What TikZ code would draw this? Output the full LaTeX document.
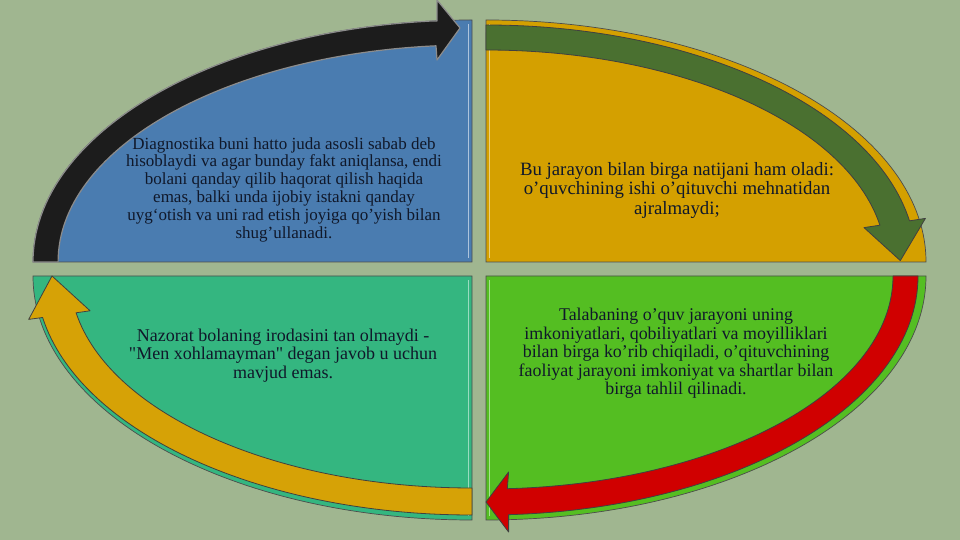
\documentclass[tikz,border=0pt]{standalone}
\usepackage{fontspec}
\setmainfont{Liberation Serif}[Ligatures=TeXOff]
\definecolor{bg}{HTML}{A0B690}
\definecolor{qblue}{HTML}{4A7CB0}
\definecolor{qgold}{HTML}{D4A000}
\definecolor{qgreen}{HTML}{54BE22}
\definecolor{qteal}{HTML}{34B680}
\definecolor{arblack}{HTML}{1C1C1C}
\definecolor{argreen}{HTML}{4A7030}
\definecolor{arred}{HTML}{D00000}
\definecolor{argold}{HTML}{D6A206}
\definecolor{txt}{HTML}{10182A}
\tikzset{
  quad/.style={draw=black!70, line width=0.7pt},
  band/.style={line width=0.8pt, line join=round},
  lbl/.style={align=center, text=txt, inner sep=0pt},
}
\begin{document}
\begin{tikzpicture}[x=1pt,y=1pt]
\fill[bg] (0,0) rectangle (960,540);
\useasboundingbox (0,0) rectangle (960,540);

% quadrants
\path[quad, fill=qblue] (472,278) -- (33,278) arc[start angle=180,end angle=90,x radius=439,y radius=242] -- cycle;
\path[quad, fill=qgold] (486,278) -- (486,520) arc[start angle=90,end angle=0,x radius=440,y radius=242] -- cycle;
\path[quad, fill=qgreen] (486,264) -- (926,264) arc[start angle=0,end angle=-90,x radius=440,y radius=244] -- cycle;
\path[quad, fill=qteal] (472,264) -- (472,20) arc[start angle=270,end angle=180,x radius=439,y radius=244] -- cycle;

% bevel highlights
\draw[qblue!45!white, line width=1.5pt] (468.5,282) -- (468.5,516);
\draw[qgold!50!white, line width=1.5pt] (489.5,282) -- (489.5,516);
\draw[qgreen!50!white, line width=1.5pt] (489.5,24) -- (489.5,260);
\draw[qteal!50!white, line width=1.5pt] (468.5,24) -- (468.5,260);

% black arrow (top left)
\path[band, fill=arblack, draw=black!45, line width=1.2pt] (33,278) arc[start angle=180,end angle=95,x radius=439,y radius=242]
  -- (437,519) -- (437,540) -- (460,512) -- (437,480) -- (436,494.2)
  arc[start angle=95,end angle=180,x radius=414,y radius=217] -- cycle;

% green arrow (top right)
\path[band, fill=argreen, draw=black!75] (486,515) arc[start angle=90,end angle=10,x radius=430,y radius=237]
  -- (925.4,321.6) -- (900.3,279.4) -- (864,312.4) -- (879.9,314.8)
  arc[start angle=10,end angle=90,x radius=400,y radius=212] -- cycle;

% red arrow (bottom right)
\path[band, fill=arred, draw=black!75] (918,264) arc[start angle=0,end angle=-87,x radius=432,y radius=239]
  -- (508.6,8) -- (486,38) -- (508.6,68) -- (507.3,51.3)
  arc[start angle=-87,end angle=0,x radius=407,y radius=213] -- cycle;

% gold arrow (bottom left)
\path[band, fill=argold, draw=black!75] (472,25) arc[start angle=270,end angle=190,x radius=436,y radius=239]
  -- (28.7,220.6) -- (52,264) -- (90.1,229.2) -- (76.1,227.2)
  arc[start angle=190,end angle=270,x radius=402,y radius=212] -- cycle;

% texts
\node[lbl, font=\fontsize{17}{17.8}\selectfont] (tl) at (284,350.5) {Diagnostika buni hatto juda asosli sabab deb\\hisoblaydi va agar bunday fakt aniqlansa, endi\\bolani qanday qilib haqorat qilish haqida\\emas, balki unda ijobiy istakni qanday\\uyg‘otish va uni rad etish joyiga qo’yish bilan\\shug’ullanadi.};
\node[lbl, font=\fontsize{18.8}{19.5}\selectfont] (tr) at (677,349.5) {Bu jarayon bilan birga natijani ham oladi:\\o’quvchining ishi o’qituvchi mehnatidan\\ajralmaydi;};
\node[lbl, font=\fontsize{17.9}{18.4}\selectfont] (br) at (676,186.5) {Talabaning o’quv jarayoni uning\\imkoniyatlari, qobiliyatlari va moyilliklari\\bilan birga ko’rib chiqiladi, o’qituvchining\\faoliyat jarayoni imkoniyat va shartlar bilan\\birga tahlil qilinadi.};
\node[lbl, font=\fontsize{18}{18.6}\selectfont] (bl) at (283,184.5) {Nazorat bolaning irodasini tan olmaydi -\\"Men xohlamayman" degan javob u uchun\\mavjud emas.};
\end{tikzpicture}
\end{document}
